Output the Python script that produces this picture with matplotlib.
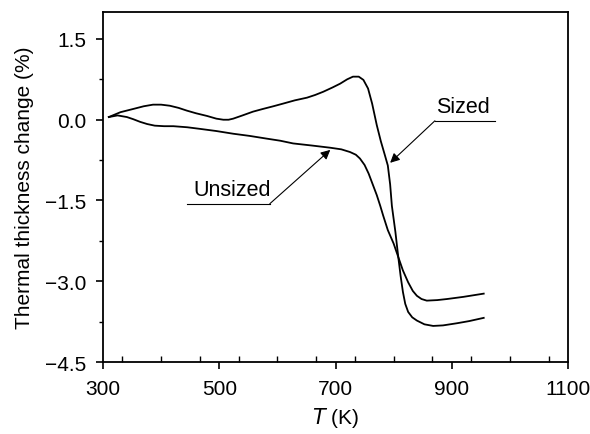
#!/usr/bin/env python3
"""Thermal thickness change vs temperature, sized / unsized."""

import numpy as np
import matplotlib.pyplot as plt
from matplotlib.ticker import MultipleLocator

plt.rcParams['font.family'] = ['Liberation Sans', 'DejaVu Sans']

# Sized curve (K, %)
sized_T = [310, 330, 352, 370, 386, 400, 415, 430, 444, 460, 479, 495, 507, 516,
           524, 540, 558, 575, 593, 610, 630, 651, 665, 679, 695, 708, 720, 730,
           740, 748, 756, 763, 771, 778, 785, 790, 794, 797, 803, 808, 812, 816,
           820, 825, 832, 840, 853, 868, 885, 909, 930, 955]
sized_v = [0.05, 0.14, 0.20, 0.25, 0.28, 0.28, 0.26, 0.22, 0.17, 0.12, 0.07, 0.02,
           0.00, 0.00, 0.02, 0.08, 0.15, 0.20, 0.25, 0.30, 0.36, 0.41, 0.46, 0.52,
           0.60, 0.67, 0.75, 0.80, 0.80, 0.74, 0.58, 0.30, -0.10, -0.40, -0.66,
           -0.85, -1.20, -1.60, -2.08, -2.55, -2.90, -3.20, -3.42, -3.57, -3.67,
           -3.73, -3.80, -3.83, -3.82, -3.78, -3.74, -3.68]

# Unsized curve (K, %)
unsized_T = [310, 325, 341, 352, 364, 376, 389, 405, 421, 445, 467, 495, 524, 552,
             581, 605, 627, 660, 691, 710, 725, 735, 742, 750, 757, 764, 771, 777,
             782, 790, 800, 808, 816, 825, 833, 840, 848, 857, 875, 892, 920, 955]
unsized_v = [0.05, 0.08, 0.05, 0.01, -0.04, -0.08, -0.11, -0.12, -0.12, -0.14,
             -0.17, -0.21, -0.26, -0.30, -0.35, -0.39, -0.44, -0.48, -0.52, -0.55,
             -0.60, -0.65, -0.72, -0.84, -1.00, -1.20, -1.40, -1.60, -1.78, -2.05,
             -2.30, -2.55, -2.80, -3.02, -3.18, -3.27, -3.33, -3.36, -3.35, -3.33,
             -3.29, -3.23]

fig = plt.figure(figsize=(5.9, 4.35), dpi=100)
ax = fig.add_axes([0.1746, 0.1655, 0.7881, 0.8045])

ax.plot(sized_T, sized_v, color='black', lw=1.3)
ax.plot(unsized_T, unsized_v, color='black', lw=1.3)

ax.set_xlim(300, 1100)
ax.set_ylim(-4.5, 2.0)
ax.set_xticks([300, 500, 700, 900, 1100])
ax.set_yticks([1.5, 0.0, -1.5, -3.0, -4.5])
ax.set_yticklabels(['1.5', '0.0', '\u22121.5', '\u22123.0', '\u22124.5'])
ax.xaxis.set_minor_locator(MultipleLocator(200 / 3))
ax.yaxis.set_minor_locator(MultipleLocator(0.75))
ax.tick_params(which='major', direction='out', length=5, width=1.2, labelsize=15)
ax.tick_params(axis='x', which='major', pad=7)
ax.tick_params(axis='y', which='major', pad=7)
ax.tick_params(axis='x', which='minor', direction='in', length=4, width=1)
ax.tick_params(axis='y', which='minor', direction='out', length=3, width=1)
for s in ax.spines.values():
    s.set_linewidth(1.3)

ax.set_xlabel(r'$\it{T}$ (K)', fontsize=15, labelpad=5)
ax.set_ylabel('Thermal thickness change (%)', fontsize=15, labelpad=8)

# Sized label with underline and arrow
ax.text(920, 0.24, 'Sized', fontsize=15.5, ha='center', va='center')
ax.plot([871, 975], [-0.02, -0.02], color='black', lw=0.8)
ax.annotate('', xy=(794, -0.80), xytext=(871, -0.02),
            arrowprops=dict(arrowstyle='-|>', color='black', lw=0.8,
                            mutation_scale=14, shrinkA=0, shrinkB=0))

# Unsized label with underline and arrow
ax.text(522, -1.30, 'Unsized', fontsize=15.5, ha='center', va='center')
ax.plot([445, 587], [-1.56, -1.56], color='black', lw=0.8)
ax.annotate('', xy=(691, -0.56), xytext=(587, -1.56),
            arrowprops=dict(arrowstyle='-|>', color='black', lw=0.8,
                            mutation_scale=14, shrinkA=0, shrinkB=0))

fig.savefig('out.png', dpi=100)
